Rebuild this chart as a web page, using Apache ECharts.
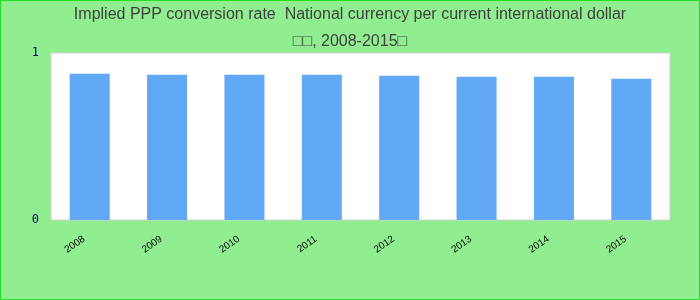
<!DOCTYPE html>
<html><head><meta charset="utf-8">
<script src="https://cdn.jsdelivr.net/npm/echarts@6/dist/echarts.min.js"></script>
<style>html,body{margin:0;padding:0;}#c{width:700px;height:300px;}</style>
</head><body><div id="c"></div>
<script>
const titleText = 'Implied PPP conversion rate  National currency per current international dollar\n\u25A1\u25A1, 2008-2015\u25A1';
const categories = ['2008','2009','2010','2011','2012','2013','2014','2015'];
const values = [0.876, 0.870, 0.870, 0.870, 0.864, 0.858, 0.858, 0.846];
const yTicks = [0, 1];

const chart = echarts.init(document.getElementById('c'), null, {renderer:'canvas'});
chart.setOption({
  backgroundColor: '#90EE90',
  animation: false,
  title: {
    text: titleText,
    left: 'center',
    top: -4,
    textStyle: {fontFamily: 'Liberation Sans, Arial, sans-serif', fontSize: 16, fontWeight: 'normal', color: '#404040', lineHeight: 27}
  },
  graphic: [{
    type: 'rect', shape: {x: 0.5, y: 0.5, width: 699, height: 299},
    style: {fill: 'none', stroke: '#22e022', lineWidth: 1}, silent: true, z: 100
  }],
  grid: {left: 51, right: 30, top: 53, bottom: 80, show: true, backgroundColor: '#ffffff', borderColor: '#d0d0d0', borderWidth: 1},
  xAxis: {
    type: 'category', data: categories,
    axisLine: {show: false}, axisTick: {show: false},
    axisLabel: {interval: 0, rotate: 35, margin: 14, padding: [0, 7, 0, 0], fontSize: 10, color: '#000', fontFamily: 'Liberation Sans, Arial, sans-serif'}
  },
  yAxis: {
    type: 'value', min: yTicks[0], max: yTicks[yTicks.length-1], interval: 1,
    axisLine: {show: false}, axisTick: {show: false}, splitLine: {show: false},
    axisLabel: {margin: 12, fontSize: 12, padding: [4, 0, 0, 0], color: '#00008b', fontFamily: 'DejaVu Sans Mono, monospace'}
  },
  series: [{
    type: 'bar', data: values, barWidth: 40,
    itemStyle: {color: '#61A8F5'}
  }]
});
</script></body></html>
